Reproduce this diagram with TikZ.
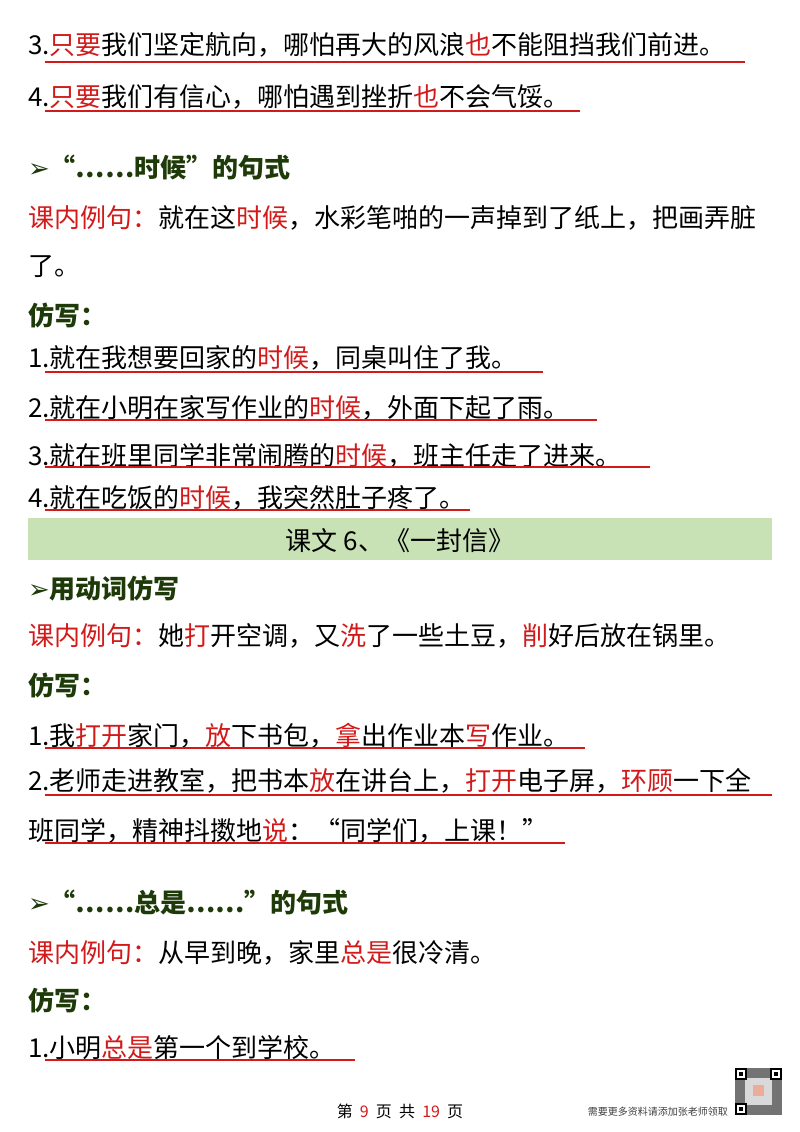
\documentclass[tikz,border=0pt]{standalone}
\usepackage{fontspec}
\setmainfont{Noto Sans CJK SC}
\newfontfamily\djvfont{DejaVu Sans}
\definecolor{rd}{HTML}{D21A1A}
\definecolor{hg}{HTML}{1E3A08}
\definecolor{bn}{HTML}{C9E2B5}
\newcommand\R[1]{\textcolor{rd}{#1}}
\begin{document}
\begin{tikzpicture}[x=1pt,y=-1pt,
  tx/.style={anchor=base west,inner sep=0,font=\fontsize{26}{30}\selectfont},
  hd/.style={tx,text=hg,font=\fontsize{26}{30}\selectfont\bfseries},
  ul/.style={draw=rd,line width=1.3pt}]
\useasboundingbox[fill=white] (0,0) rectangle (800,1132);
\node[tx] (a1) at (28,55) {3.\R{只要}我们坚定航向，哪怕再大的风浪\R{也}不能阻挡我们前进。};
\draw[ul] (45,62) -- (745,62);
\node[tx] (a2) at (28,106) {4.\R{只要}我们有信心，哪怕遇到挫折\R{也}不会气馁。};
\draw[ul] (45,111) -- (580,111);
\node[hd] (h1) at (28,177) {{\djvfont\bfseries ➢}“……时候”的句式};
\node[tx] (e1) at (28,227) {\R{课内例句：}就在这\R{时候}，水彩笔啪的一声掉到了纸上，把画弄脏};
\node[tx] (e1b) at (28,275) {了。};
\node[hd] (f1) at (28,325) {仿写：};
\node[tx] (b1) at (28,367) {1.就在我想要回家的\R{时候}，同桌叫住了我。};
\draw[ul] (45,372) -- (543,372);
\node[tx] (b2) at (28,417) {2.就在小明在家写作业的\R{时候}，外面下起了雨。};
\draw[ul] (45,420) -- (597,420);
\node[tx] (b3) at (28,465) {3.就在班里同学非常闹腾的\R{时候}，班主任走了进来。};
\draw[ul] (45,467) -- (650,467);
\node[tx] (b4) at (28,507) {4.就在吃饭的\R{时候}，我突然肚子疼了。};
\draw[ul] (45,510) -- (470,510);
\fill[bn] (28,518) rectangle (772,560);
\node[tx] (bn) at (400,550) [anchor=base] {课文 6、《一封信》};
\node[hd] (h2) at (28,598) {{\djvfont\bfseries ➢}用动词仿写};
\node[tx] (e2) at (28,645) {\R{课内例句：}她\R{打}开空调，又\R{洗}了一些土豆，\R{削}好后放在锅里。};
\node[hd] (f2) at (28,695) {仿写：};
\node[tx] (c1) at (28,745) {1.我\R{打开}家门，\R{放}下书包，\R{拿}出作业本\R{写}作业。};
\draw[ul] (45,748) -- (585,748);
\node[tx] (c2) at (28,790) {2.老师走进教室，把书本\R{放}在讲台上，\R{打开}电子屏，\R{环顾}一下全};
\draw[ul] (45,795) -- (772,795);
\node[tx] (c2b) at (28,840) {班同学，精神抖擞地\R{说}：“同学们，上课！”};
\draw[ul] (45,843) -- (565,843);
\node[hd] (h3) at (28,912) {{\djvfont\bfseries ➢}“……总是……”的句式};
\node[tx] (e3) at (28,962) {\R{课内例句：}从早到晚，家里\R{总是}很冷清。};
\node[hd] (f3) at (28,1010) {仿写：};
\node[tx] (d1) at (28,1057) {1.小明\R{总是}第一个到学校。};
\draw[ul] (45,1060) -- (355,1060);
\node[anchor=base,inner sep=0,font=\fontsize{16}{18}\selectfont] (pg) at (400,1117) {第\ \ \R{9}\ \ 页\ \ 共\ \ \R{19}\ \ 页};
\node[anchor=base east,inner sep=0,font=\fontsize{10}{12}\selectfont,text=black!75] (ad) at (728,1115) {需要更多资料请添加张老师领取};
\fill[black!55] (735,1068) rectangle (782,1115);
\fill[white!85!black] (745,1078) rectangle (772,1105);
\foreach \x/\y in {735/1068,770/1068,735/1103}{\fill[black] (\x,\y) rectangle ++(12,12); \fill[white] (\x+2,\y+2) rectangle ++(8,8); \fill[black] (\x+4,\y+4) rectangle ++(4,4);}
\fill[pink!70!brown] (753,1085) rectangle (764,1096);
\end{tikzpicture}
\end{document}
